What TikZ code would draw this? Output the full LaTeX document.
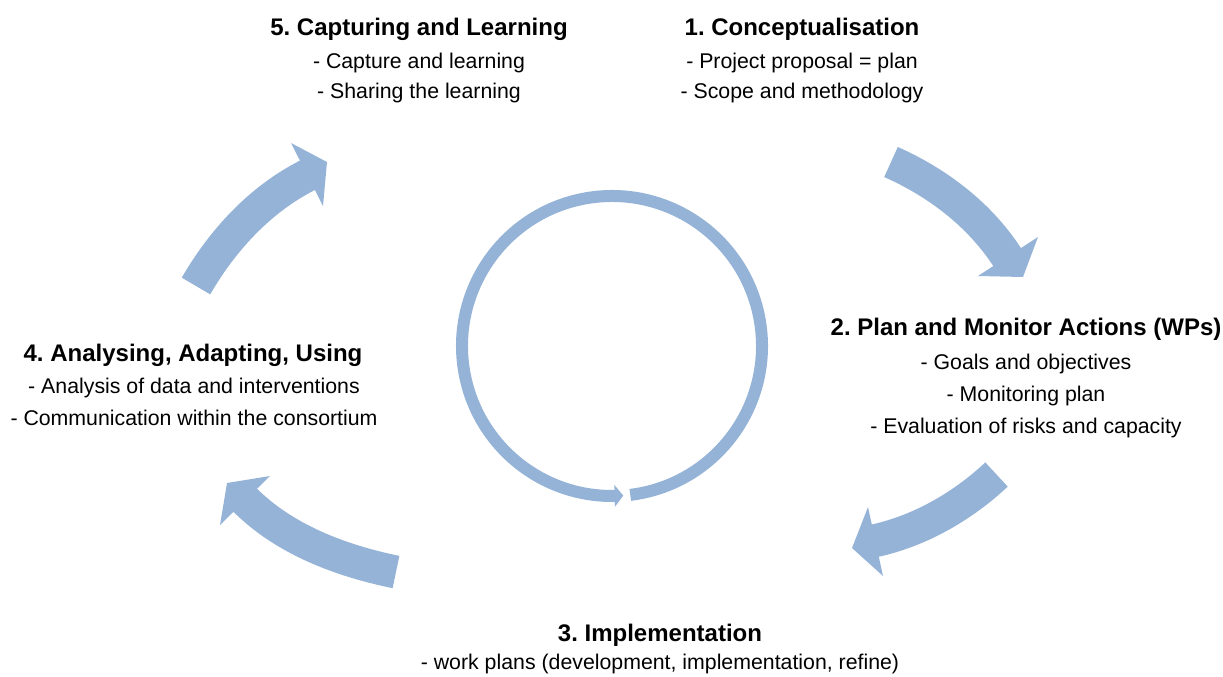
\documentclass[tikz,border=0pt]{standalone}
\usepackage{fontspec}
\setmainfont{Liberation Sans}
\usetikzlibrary{calc}
\frenchspacing
\definecolor{arrowblue}{HTML}{95B3D7}
\tikzset{
  ttl/.style={anchor=base, inner sep=0pt, font=\fontsize{24}{28}\selectfont\bfseries},
  txt/.style={anchor=base, inner sep=0pt, font=\fontsize{21.3}{26}\selectfont},
  body/.style={draw=arrowblue, line width=33, line cap=butt},
  head/.style={fill=arrowblue, draw=none},
}
\begin{document}
\begin{tikzpicture}[x=1pt, y=-1pt]
\useasboundingbox (0,0) rectangle (1223,677);

% text blocks
\node[ttl] (t5) at (419,36) {5. Capturing and Learning};
\node[txt] (t5a) at (419,69) {- Capture and learning};
\node[txt] (t5b) at (419,99) {- Sharing the learning};

\node[ttl] (t1) at (802,36) {1. Conceptualisation};
\node[txt] (t1a) at (802,69) {- Project proposal = plan};
\node[txt] (t1b) at (802,99) {- Scope and methodology};

\node[ttl] (t2) at (1026,335) {2. Plan and Monitor Actions (WPs)};
\node[txt] (t2a) at (1026,369) {- Goals and objectives};
\node[txt] (t2b) at (1026,401) {- Monitoring plan};
\node[txt] (t2c) at (1026,433) {- Evaluation of risks and capacity};

\node[ttl] (t4) at (193,361) {4. Analysing, Adapting, Using};
\node[txt] (t4a) at (194,393) {- Analysis of data and interventions};
\node[txt] (t4b) at (194,425) {- Communication within the consortium};

\node[ttl] (t3) at (660,641) {3. Implementation};
\node[txt] (t3a) at (660,669) {- work plans (development, implementation, refine)};

% curved block arrows
% arrow 1 -> 2
\draw[body] (891,162) .. controls (936,182) and (980,214) .. (1009,260);
\fill[head] (978,276) -- (1038,237) -- (1023,277) -- cycle;
% arrow 2 -> 3
\draw[body] (996.5,474.5) .. controls (963.5,505.5) and (920.5,531) .. (873.5,541);
\fill[head] (868,507) -- (883,576) -- (852,548) -- cycle;
% arrow 3 -> 4
\draw[body] (396,572) .. controls (342,561) and (284.5,540) .. (244,499);
\fill[head] (270,476) -- (220,525) -- (227,483) -- cycle;
% arrow 4 -> 5
\draw[body] (196,286) .. controls (222,241) and (259.5,199.5) .. (308,175);
\fill[head] (291,143) -- (323,206) -- (327,162) -- cycle;

% inner circular arrow
\coordinate (cc) at (612,346);
\draw[draw=arrowblue, line width=12, line cap=butt] (cc) ++(83:150) arc[start angle=83, end angle=-271.5, radius=150];
\fill[head] ($(cc)+(-271:139)$) -- ($(cc)+(-271:161)$) -- ($(cc)+(-274.3:150)$) -- cycle;
\end{tikzpicture}
\end{document}
